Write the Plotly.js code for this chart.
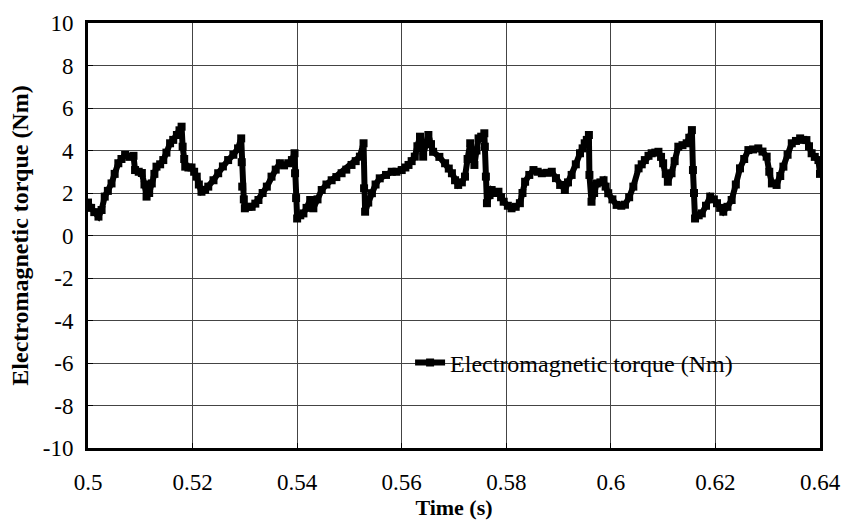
<!DOCTYPE html>
<html>
<head>
<meta charset="utf-8">
<script src="https://cdn.plot.ly/plotly-3.0.1.min.js"></script>
<style>html,body{margin:0;padding:0;background:#fff;}#chart{width:845px;height:531px;}</style>
</head>
<body>
<div id="chart"></div>
<script>
const seriesName = "Electromagnetic torque (Nm)";
const xTitle = "Time (s)";
const yTitle = "Electromagnetic torque (Nm)";
const xTickVals = [0.5, 0.52, 0.54, 0.56, 0.58, 0.6, 0.62, 0.64];
const xTickText = ["0.5", "0.52", "0.54", "0.56", "0.58", "0.6", "0.62", "0.64"];
const yTickVals = [-10, -8, -6, -4, -2, 0, 2, 4, 6, 8, 10];
const yTickText = ["-10", "-8", "-6", "-4", "-2", "0", "2", "4", "6", "8", "10"];

const time = [
0.5000,0.5006,0.5012,0.5020,0.5026,0.5032,0.5038,0.5045,0.5051,0.5058,
0.5064,0.5071,0.5079,0.5087,0.5090,0.5097,0.5103,0.5108,0.5112,0.5117,
0.5122,0.5127,0.5131,0.5138,0.5144,0.5150,0.5157,0.5163,0.5170,0.5175,
0.5179,0.5181,0.5184,0.5186,0.5192,0.5198,0.5203,0.5208,0.5212,0.5217,
0.5224,0.5230,0.5240,0.5249,0.5258,0.5268,0.5278,0.5287,0.5293,0.5294,
0.5295,0.5298,0.5300,0.5307,0.5313,0.5320,0.5326,0.5334,0.5342,0.5351,
0.5359,0.5367,0.5375,0.5383,0.5390,0.5395,0.5396,0.5398,0.5400,0.5406,
0.5412,0.5418,0.5425,0.5431,0.5439,0.5447,0.5456,0.5466,0.5475,0.5485,
0.5494,0.5504,0.5512,0.5520,0.5527,0.5528,0.5530,0.5536,0.5543,0.5550,
0.5558,0.5570,0.5581,0.5590,0.5600,0.5607,0.5613,0.5619,0.5625,0.5630,
0.5635,0.5638,0.5641,0.5646,0.5651,0.5656,0.5660,0.5672,0.5683,0.5690,
0.5696,0.5702,0.5708,0.5715,0.5721,0.5726,0.5731,0.5735,0.5739,0.5743,
0.5747,0.5752,0.5758,0.5759,0.5761,0.5763,0.5768,0.5772,0.5779,0.5785,
0.5790,0.5795,0.5803,0.5810,0.5818,0.5826,0.5831,0.5836,0.5844,0.5852,
0.5860,0.5868,0.5878,0.5887,0.5895,0.5903,0.5912,0.5918,0.5925,0.5933,
0.5941,0.5946,0.5950,0.5954,0.5958,0.5959,0.5963,0.5968,0.5973,0.5980,
0.5986,0.5990,0.5995,0.6003,0.6011,0.6020,0.6027,0.6035,0.6043,0.6053,
0.6059,0.6065,0.6072,0.6078,0.6085,0.6091,0.6096,0.6100,0.6105,0.6109,
0.6116,0.6122,0.6129,0.6137,0.6145,0.6150,0.6155,0.6157,0.6159,0.6161,
0.6168,0.6174,0.6182,0.6190,0.6197,0.6203,0.6209,0.6215,0.6223,0.6231,
0.6239,0.6247,0.6255,0.6263,0.6272,0.6282,0.6290,0.6298,0.6303,0.6308,
0.6317,0.6324,0.6330,0.6338,0.6346,0.6354,0.6362,0.6368,0.6374,0.6379,
0.6384,0.6390,0.6397,0.6400
];
const torque = [
1.55,1.30,1.10,0.89,1.20,1.83,2.10,2.45,2.90,3.40,
3.60,3.79,3.70,3.75,3.08,3.00,2.94,2.40,1.83,2.00,
2.45,2.90,3.24,3.35,3.55,3.90,4.34,4.50,4.73,4.95,
5.12,4.18,3.60,3.24,3.20,3.20,3.00,2.77,2.40,2.06,
2.15,2.30,2.60,2.93,3.25,3.55,3.80,4.10,4.57,3.45,
2.30,1.70,1.28,1.35,1.35,1.50,1.67,2.00,2.30,2.77,
3.10,3.40,3.30,3.40,3.55,3.87,2.93,1.76,0.80,0.95,
1.04,1.30,1.67,1.28,1.70,2.14,2.40,2.60,2.75,2.93,
3.10,3.32,3.50,3.71,4.34,2.22,1.12,1.55,1.99,2.40,
2.69,2.85,3.00,3.00,3.08,3.20,3.32,3.50,3.71,4.20,
4.65,4.10,3.71,4.30,4.73,4.30,3.94,3.70,3.40,3.15,
2.93,2.60,2.38,2.50,2.77,3.60,4.34,3.80,3.32,4.00,
4.57,4.65,4.81,4.18,2.77,1.52,1.90,2.14,2.00,2.06,
1.80,1.59,1.40,1.28,1.35,1.52,2.00,2.53,2.85,3.08,
3.00,2.93,2.95,3.00,2.70,2.38,2.14,2.50,2.85,3.35,
3.87,4.10,4.34,4.50,4.73,2.85,1.59,2.00,2.45,2.50,
2.60,2.30,1.99,1.70,1.44,1.40,1.45,1.80,2.30,3.16,
3.35,3.55,3.75,3.87,3.90,3.94,3.70,3.40,2.90,2.53,
2.93,3.50,4.18,4.25,4.34,4.60,4.96,3.08,2.00,0.80,
0.95,1.04,1.40,1.83,1.70,1.52,1.30,1.12,1.35,1.67,
2.40,3.16,3.60,4.02,4.05,4.10,3.95,3.71,3.00,2.45,
2.38,2.80,3.24,3.80,4.34,4.45,4.57,4.50,4.49,4.20,
3.87,3.70,3.55,2.90
];

const serif = "Liberation Serif, Times New Roman, serif";

const trace = {
  x: time, y: torque, type: "scatter", mode: "lines+markers",
  name: seriesName,
  line: {color: "#000", width: 6},
  marker: {symbol: "square", size: 8, color: "#000"}
};

const axisCommon = {
  showline: true, mirror: true, linecolor: "#000", linewidth: 3,
  showgrid: true, gridcolor: "#444", gridwidth: 1, zeroline: false,
  ticks: "inside", ticklen: 5, tickcolor: "#000", tickwidth: 1,
  tickfont: {family: serif, size: 23, color: "#000"}
};

const layout = {
  width: 845, height: 531,
  margin: {l: 88, r: 25, t: 23, b: 83},
  paper_bgcolor: "#fff", plot_bgcolor: "#fff",
  showlegend: true,
  xaxis: Object.assign({}, axisCommon, {
    range: [0.5, 0.64], tickvals: xTickVals, ticktext: xTickText,
    ticklabelstandoff: 11,
    title: {text: "<b>" + xTitle + "</b>", font: {family: serif, size: 22, color: "#000"}, standoff: 4}
  }),
  yaxis: Object.assign({}, axisCommon, {
    range: [-10, 10], tickvals: yTickVals, ticktext: yTickText,
    ticklabelstandoff: 7,
    title: {text: "<b>" + yTitle + "</b>", font: {family: serif, size: 24, color: "#000"}, standoff: 8}
  }),
  legend: {
    x: 0.44, y: 0.2, xanchor: "left", yanchor: "middle",
    bgcolor: "rgba(0,0,0,0)", borderwidth: 0,
    font: {family: serif, size: 24, color: "#000"}
  },
  shapes: [{
    type: "rect", xref: "paper", yref: "paper",
    x0: 0.388, x1: 0.936, y0: 0.118, y1: 0.28,
    fillcolor: "#fff", line: {width: 0}, layer: "between"
  }]
};

Plotly.newPlot("chart", [trace], layout, {displayModeBar: false, staticPlot: true});
</script>
</body>
</html>
